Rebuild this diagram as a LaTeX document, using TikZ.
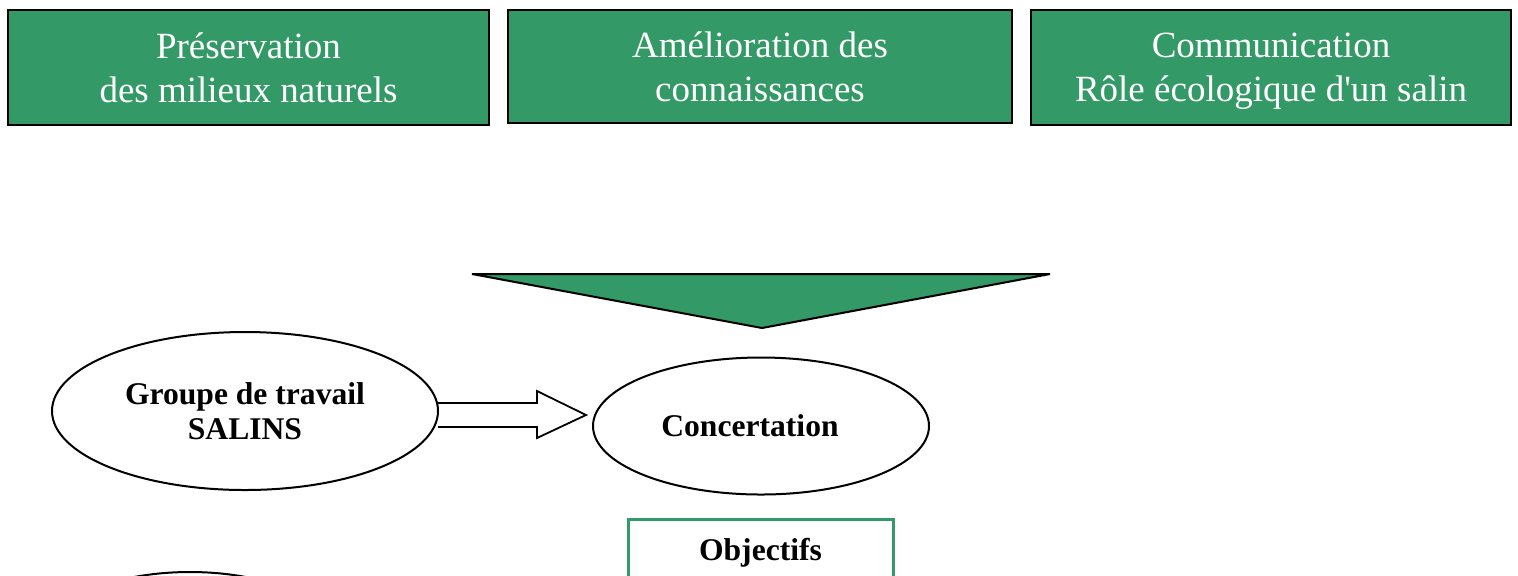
\documentclass[tikz,border=0pt]{standalone}
\usepackage{fontspec}
\setmainfont{Liberation Serif}
\usetikzlibrary{shapes.geometric,positioning,calc}
\definecolor{salgreen}{RGB}{51,153,102}
\tikzset{
  theme/.style = {draw=black, line width=1pt, fill=salgreen, text=white, align=center,
    font=\fontsize{18.5}{22}\selectfont, inner sep=0pt},
  oval/.style = {draw, ellipse, line width=1pt, align=center, inner sep=0pt,
    font=\fontsize{15.8}{17.5}\selectfont\bfseries},
  goal/.style = {draw=salgreen, line width=1.5pt, fill=white, align=center,
    font=\fontsize{15.8}{17.5}\selectfont\bfseries},
  blockarrow/.style = {draw, line width=0.9pt, line join=miter}
}
\begin{document}
\begin{tikzpicture}[x = 0.5pt, y = -0.5pt]
	\clip (0,0) rectangle (1518,575);
	\fill[white] (0,0) rectangle (1518,575);
	% three themes
	\node[theme, minimum width=240.5pt, minimum height=57.5pt] (preserv) at (248.5,67.5) {Préservation\\des milieux naturels};
	\node[theme, minimum width=252pt, minimum height=56.5pt] (connais) at (760,66.5) {Amélioration des\\connaissances};
	\node[theme, minimum width=240pt, minimum height=57.5pt] (commun) at (1271,67.5) {Communication\\\smash{Rôle écologique d\textquotesingle un salin}};
	% big triangle
	\draw[fill=salgreen, line width=1pt] (472,274) -- (1050,274) -- (762,328) -- cycle;
	% ovals
	\node[oval, minimum width=193pt, minimum height=79pt] (groupe) at (245,411) {Groupe de travail\\SALINS};
	\node[oval, minimum width=168pt, minimum height=68.5pt] (concert) at (761,426) {\hspace*{-11pt}Concertation};
	\node[oval, anchor=north, minimum width=150pt, minimum height=70pt] (suite) at (190,571) {};
	% block arrow
	\coordinate (tip) at ($(concert.west)+(-6,-11)$);
	\draw[blockarrow] ($(groupe.east)+(-1,-8)$) -- ($(tip)+(-49,-12)$) -- ($(tip)+(-49,-24)$) -- (tip)
		-- ($(tip)+(-49,23)$) -- ($(tip)+(-49,12)$) -- ($(groupe.east)+(-1,16)$);
	% objectives
	\node[goal, anchor=north, minimum width=132.5pt, text height=10.5pt, text depth=40pt, inner ysep=10pt] (objectifs) at (760.5,518) {Objectifs};
\end{tikzpicture}
\end{document}
